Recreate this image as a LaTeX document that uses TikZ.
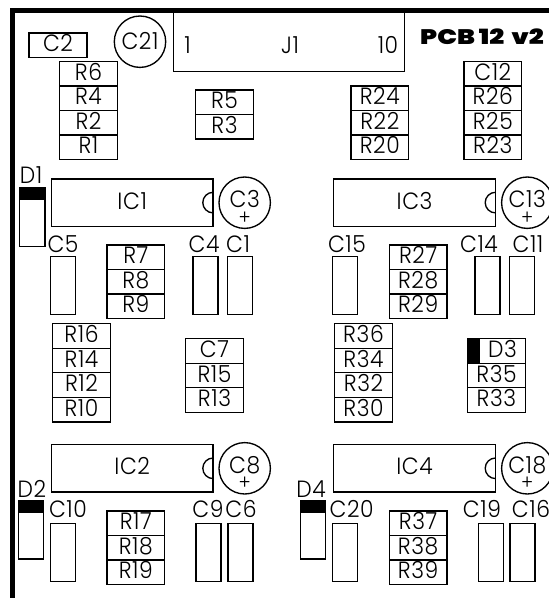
\documentclass[tikz,border=0pt]{standalone}
\usepackage{fontspec}
\setmainfont[FakeStretch=0.93,LetterSpace=2.5]{Poppins Light}
\newfontfamily\titlefont[FakeStretch=1.25]{Poppins Black}
\newcommand\partbox[6]{\node[pbox,minimum width={(#4-#2)*1pt},minimum height={(#5-#3)*1pt}] (#1) at ({(#2+#4)/2},{(#3+#5)/2}) {#6};}
\newcommand\pstack[4]{% x0, y0, width, list of names
  \foreach \nm [count=\i from 0] in {#4} {
    \pgfmathsetmacro\ya{#2+24.55*\i}
    \pgfmathsetmacro\yb{\ya+24.55}
    \pgfmathsetmacro\xb{#1+#3}
    \partbox{\nm}{#1}{\ya}{\xb}{\yb}{\nm}
  }}
\newcommand\icpart[4]{% name x0 y0 text
  \pgfmathsetmacro\xb{#2+161.8}
  \pgfmathsetmacro\yb{#3+47.2}
  \partbox{#1}{#2}{#3}{\xb}{\yb}{#4}
  \draw[pline] (#1.east) ++(0,10.3) arc[start angle=90,end angle=270,radius=10.3];
}
\newcommand\ecap[4]{% name cx cy text
  \node[capc] (#1) at (#2,#3) {};
  \node[lbl,text height=16pt,text depth=0pt] (#1t) at (#2,#3-3) {#4};
  \node[lbl,font=\fontsize{20}{20}\selectfont,text height=8pt,text depth=0pt] (#1p) at (#2,#3+17.5) {+};
}
\newcommand\diode[3]{% name x0 y0
  \pgfmathsetmacro\xb{#2+25.4}
  \pgfmathsetmacro\yb{#3+58.2}
  \pgfmathsetmacro\yc{#3+12}
  \partbox{#1}{#2}{#3}{\xb}{\yb}{}
  \fill (#2,#3) rectangle (\xb,\yc);
}
\newcommand\vcap[3]{% name x0 y0
  \pgfmathsetmacro\xb{#2+25}
  \pgfmathsetmacro\yb{#3+58}
  \partbox{#1}{#2}{#3}{\xb}{\yb}{}
}
\tikzset{
  pline/.style={draw=black,line width=1.35pt},
  pbox/.style={pline,rectangle,inner sep=0pt,outer sep=0pt,font=\fontsize{23.5}{23.5}\selectfont,text height=16.5pt,text depth=3.5pt,align=center},
  lbl/.style={inner sep=0pt,outer sep=0pt,font=\fontsize{23.5}{23.5}\selectfont},
  capc/.style={pline,circle,inner sep=0pt,outer sep=0pt,minimum size=51.4pt},
  frameln/.style={draw=black,line width=5pt}
}
\begin{document}
\begin{tikzpicture}[x=1pt,y=-1pt]
\clip (0,0) rectangle (549,598);
\coordinate (ftl) at (12.3,10);
\coordinate (ftr) at (549,10);
\coordinate (fbl) at (12.3,598);
\draw[frameln] (fbl) -- (ftl) -- (ftr);
% top row
\partbox{C2}{29}{33}{87}{57.5}{C2}
\node[capc] (C21) at (140,41.7) {};
\node[lbl] (C21t) at (140,41) {C21};
\partbox{J1}{173.3}{10}{404.7}{71.7}{}
\node[lbl] (J1a) at (187.5,45) {1};
\node[lbl] (J1b) at (290,45) {J1};
\node[lbl] (J1c) at (388,45) {10};
\node[lbl,anchor=center,font=\titlefont\fontsize{21}{21}\selectfont] (title) at (482,37) {PCB\hspace{4pt}12\hspace{7pt}v2};
\pstack{59.7}{61.3}{57.6}{R6,R4,R2,R1}
\pstack{195.7}{90}{57.6}{R5,R3}
\pstack{351}{86}{57.6}{R24,R22,R20}
\pstack{464}{61.3}{57.6}{C12,R26,R25,R23}
% IC row 1
\icpart{IC1}{51.3}{179}{IC1}
\icpart{IC3}{333.7}{179}{IC3}
\ecap{C3}{244.7}{202.7}{C3}
\ecap{C13}{527.3}{202.7}{C13}
\diode{D1}{19.7}{188}
\node[lbl] (D1t) at (31,175) {D1};
% caps row 1
\vcap{C5}{50.7}{256.3}
\node[lbl] (C5t) at (63,244) {C5};
\vcap{C4}{193}{256.3}
\node[lbl] (C4t) at (204,244) {C4};
\vcap{C1}{227.7}{256.3}
\node[lbl] (C1t) at (238,244) {C1};
\vcap{C15}{332.7}{256.3}
\node[lbl] (C15t) at (347,244) {C15};
\vcap{C14}{475}{256.3}
\node[lbl] (C14t) at (479,244) {C14};
\vcap{C11}{509.7}{256.3}
\node[lbl] (C11t) at (528,244) {C11};
\pstack{107}{245}{57.6}{R7,R8,R9}
\pstack{389.3}{245}{57.6}{R27,R28,R29}
% middle
\pstack{52.7}{323.7}{57.6}{R16,R14,R12,R10}
\pstack{185.7}{338.7}{57.6}{C7,R15,R13}
\pstack{334.7}{323.7}{57.6}{R36,R34,R32,R30}
\partbox{D3}{467.7}{338.7}{525.3}{363.2}{\hspace*{12pt}D3}
\fill (467.7,338.7) rectangle (479.7,363.2);
\pstack{467.7}{363.25}{57.6}{R35,R33}
% IC row 2
\icpart{IC2}{51.3}{444.7}{IC2}
\icpart{IC4}{333.7}{444.7}{IC4}
\ecap{C8}{244.7}{468.3}{C8}
\ecap{C18}{527.3}{468.3}{C18}
\diode{D2}{18.3}{500.7}
\node[lbl] (D2t) at (32,489) {D2};
\diode{D4}{300.3}{500.7}
\node[lbl] (D4t) at (311,489) {D4};
% caps row 2
\vcap{C10}{50.3}{523.3}
\node[lbl] (C10t) at (68,509) {C10};
\vcap{C9}{196}{523.3}
\node[lbl] (C9t) at (208,509) {C9};
\vcap{C6}{228}{523.3}
\node[lbl] (C6t) at (241,509) {C6};
\vcap{C20}{332.7}{523.3}
\node[lbl] (C20t) at (351.7,509) {C20};
\vcap{C19}{478.3}{523.3}
\node[lbl] (C19t) at (482,509) {C19};
\vcap{C16}{510}{523.3}
\node[lbl] (C16t) at (531,509) {C16};
\pstack{107}{511}{57.6}{R17,R18,R19}
\pstack{389.3}{511}{57.6}{R37,R38,R39}
\end{tikzpicture}
\end{document}
